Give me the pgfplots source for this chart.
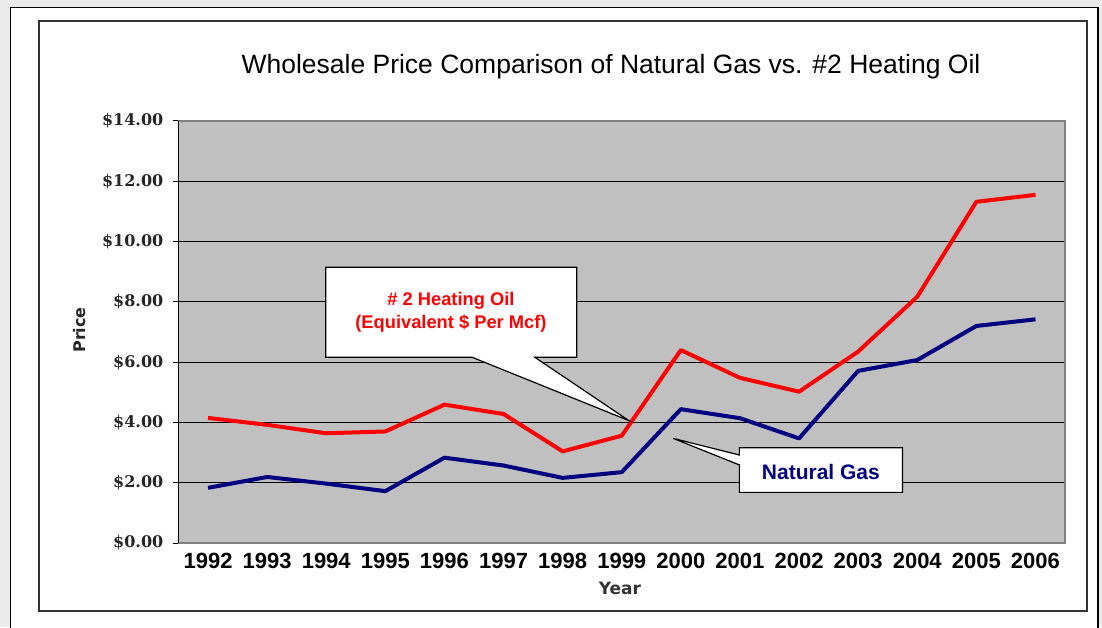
\documentclass[border=0pt]{standalone}
\usepackage{pgfplots}
\pgfplotsset{compat=1.18}
\usepackage{fontspec}
\setmainfont{Liberation Sans}
\newfontfamily\tickserif{DejaVu Serif}
\newfontfamily\labsans{DejaVu Sans}
\definecolor{bg}{HTML}{EBEBEB}
\definecolor{plotbg}{HTML}{C0C0C0}
\definecolor{oilred}{HTML}{FF0000}
\definecolor{gasnavy}{HTML}{000080}
\definecolor{edgegray}{HTML}{808080}
\begin{document}
\begin{tikzpicture}[x=1pt,y=1pt]
\useasboundingbox (0,0) rectangle (1102,627);
\fill[bg] (0,0) rectangle (1102,627);
\draw[fill=white, line width=1.5pt] (10.7,-3) rectangle (1098,619.7);
\draw[line width=1.5pt, draw=black!80] (39,16) rectangle (1087,606);
\node[font=\fontsize{26.5}{30}\selectfont] at (611,560) {Wholesale Price Comparison of Natural Gas vs. \#2 Heating Oil};
\begin{axis}[at={(178.5pt,84pt)}, anchor=south west, scale only axis,
  width=886.5pt, height=422pt,
  xmin=-0.5, xmax=14.5, ymin=0, ymax=14,
  axis background/.style={fill=plotbg},
  xtick={0,1,2,3,4,5,6,7,8,9,10,11,12,13,14},
  xticklabels={1992,1993,1994,1995,1996,1997,1998,1999,2000,2001,2002,2003,2004,2005,2006},
  ytick={0,2,4,6,8,10,12,14},
  yticklabels={\$0.00,\$2.00,\$4.00,\$6.00,\$8.00,\$10.00,\$12.00,\$14.00},
  ytick pos=left, xtick pos=bottom,
  tick align=outside, major tick length=6pt,
  xtick style={draw=none},
  ytick style={black, line width=1pt},
  xticklabel style={font=\fontsize{22}{25}\selectfont\bfseries, inner sep=0pt, yshift=-4pt},
  yticklabel style={font=\tickserif\fontsize{16}{18}\selectfont\bfseries, text=black!85, inner sep=0pt, xshift=-9pt},
  ymajorgrids, grid style={black, line width=1.2pt},
  axis line style={draw=edgegray, line width=1.2pt},
  clip=false,
]
\addplot[oilred, line width=4pt, line join=round] coordinates {
(0,4.15)(1,3.92)(2,3.64)(3,3.70)(4,4.59)(5,4.28)(6,3.04)(7,3.56)(8,6.40)(9,5.48)(10,5.02)(11,6.35)(12,8.17)(13,11.32)(14,11.55)};
\addplot[gasnavy, line width=4pt, line join=round] coordinates {
(0,1.83)(1,2.19)(2,1.97)(3,1.72)(4,2.83)(5,2.57)(6,2.16)(7,2.35)(8,4.44)(9,4.14)(10,3.47)(11,5.71)(12,6.07)(13,7.20)(14,7.42)};
\draw[black, line width=1.5pt] (rel axis cs:0,0) -- (rel axis cs:0,1);
\draw[fill=white, line width=1.2pt, line join=miter] (axis cs:1.99,9.15) -- (axis cs:6.24,9.15) -- (axis cs:6.24,6.16) -- (axis cs:5.53,6.16) -- (axis cs:7.12,4.06) -- (axis cs:4.47,6.16) -- (axis cs:1.99,6.16) -- cycle;
\draw[fill=white, line width=1.2pt, line join=miter] (axis cs:8.99,3.16) -- (axis cs:11.75,3.16) -- (axis cs:11.75,1.68) -- (axis cs:8.99,1.68) -- (axis cs:8.99,2.59) -- (axis cs:7.87,3.47) -- (axis cs:8.99,2.92) -- cycle;
\node[align=center, text=oilred, font=\fontsize{18.3}{23.5}\selectfont\bfseries] at (axis cs:4.11,7.66) {\# 2 Heating Oil\\(Equivalent \$ Per Mcf)};
\node[text=gasnavy, font=\fontsize{21}{24}\selectfont\bfseries] at (axis cs:10.37,2.37) {Natural Gas};
\end{axis}
\node[rotate=90, font=\labsans\fontsize{16}{18}\selectfont\bfseries, text=black!85] at (80,297) {Price};
\node[font=\labsans\fontsize{17}{20}\selectfont\bfseries, text=black!80] at (620,39) {Year};
\end{tikzpicture}
\end{document}
